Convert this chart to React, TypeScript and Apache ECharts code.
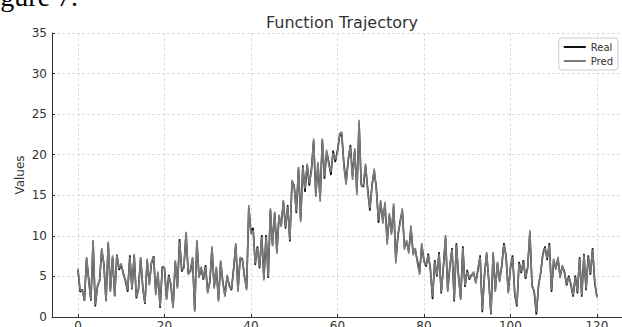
import React, { useEffect, useRef } from "react";
import * as echarts from "echarts";

const titleText = "Function Trajectory";
const yAxisName = "Values";
const seriesNames = ["Real", "Pred"];
const xTicks = [0, 20, 40, 60, 80, 100, 120];
const sampleStep = 0.5;

const predValues = [
  6.0, 3.3, 3.3, 2.1, 7.4, 4.4, 2.1, 9.5, 1.5, 3.9,
  4.4, 8.5, 6.4, 1.9, 9.3, 3.1, 7.6, 2.5, 7.6, 6.0,
  6.6, 5.2, 4.6, 3.3, 7.4, 3.5, 7.8, 2.5, 3.3, 7.4,
  3.5, 1.7, 7.2, 3.9, 6.8, 7.4, 2.7, 5.6, 1.3, 6.0,
  6.2, 2.1, 5.0, 4.1, 1.1, 7.0, 3.5, 9.3, 5.8, 6.0,
  10.5, 5.2, 5.8, 7.4, 0.65, 9.5, 4.8, 6.2, 4.8, 6.2,
  2.9, 4.5, 8.7, 3.5, 6.2, 1.9, 7.0, 4.1, 2.5, 5.2,
  3.7, 3.5, 5.8, 9.1, 3.1, 7.4, 7.0, 5.2, 3.3, 13.8,
  10.2, 10.7, 6.6, 8.5, 6.2, 9.9, 4.5, 9.9, 5.0, 13.4,
  8.7, 13.0, 7.8, 12.6, 11.1, 14.4, 11.1, 13.6, 9.5, 16.9,
  16.0, 13.0, 18.5, 11.7, 18.5, 15.8, 18.9, 16.5, 17.9, 22.0,
  14.8, 19.1, 14.2, 22.0, 17.3, 20.6, 18.8, 17.9, 20.2, 19.4,
  20.2, 22.6, 22.8, 18.5, 16.3, 19.6, 21.0, 16.9, 20.8, 15.0,
  24.3, 16.1, 16.3, 18.9, 15.4, 13.4, 16.0, 18.3, 15.6, 11.9,
  14.4, 11.5, 14.2, 8.9, 12.8, 10.1, 14.0, 6.6, 10.3, 11.5,
  13.4, 8.3, 9.5, 7.8, 11.3, 7.6, 8.5, 6.6, 5.2, 9.1,
  6.8, 6.4, 7.6, 6.0, 2.5, 6.8, 5.2, 7.8, 3.1, 6.0,
  10.1, 3.1, 6.4, 8.3, 2.1, 8.9, 5.2, 2.1, 8.5, 3.9,
  5.6, 4.8, 5.0, 5.6, 4.1, 6.0, 7.4, 0.85, 5.0, 8.0,
  4.3, 0.4, 8.0, 3.1, 6.8, 4.3, 6.5, 8.9, 7.6, 2.9,
  6.2, 7.4, 3.0, 1.5, 6.6, 5.6, 6.8, 4.9, 6.0, 10.7,
  3.7, 3.3, 0.6, 3.7, 5.6, 7.6, 8.5, 7.2, 8.9, 3.3,
  7.2, 5.8, 7.4, 4.8, 6.4, 5.4, 4.1, 4.9, 4.1, 2.7,
  4.9, 3.1, 7.2, 2.7, 7.6, 3.5, 7.4, 5.4, 8.3, 4.4,
  2.4,
];

const realValues = [
  5.8, 3.1, 3.4, 2.0, 7.2, 4.6, 2.0, 9.3, 1.3, 3.7,
  4.5, 8.3, 6.5, 2.0, 9.1, 3.3, 7.4, 2.6, 7.7, 5.8,
  6.4, 5.4, 4.4, 3.1, 7.6, 3.4, 7.6, 2.3, 3.5, 7.2,
  3.6, 1.6, 7.0, 4.1, 6.6, 7.5, 2.9, 5.4, 1.1, 6.2,
  6.0, 2.3, 5.2, 3.9, 1.2, 6.8, 3.7, 9.6, 5.6, 6.2,
  10.3, 5.4, 5.6, 7.2, 0.8, 9.3, 5.0, 6.0, 4.6, 6.4,
  3.1, 4.3, 8.5, 3.7, 6.0, 2.1, 6.8, 4.3, 2.7, 5.0,
  3.9, 3.3, 6.0, 8.9, 3.3, 7.2, 7.2, 5.0, 3.5, 13.5,
  10.4, 11.0, 6.4, 8.7, 6.0, 10.1, 4.7, 10.1, 4.8, 13.2,
  8.9, 12.8, 8.0, 12.4, 11.3, 14.2, 10.9, 13.8, 9.3, 16.7,
  16.2, 12.8, 18.3, 12.0, 18.7, 15.4, 18.7, 16.2, 18.3, 21.7,
  15.1, 18.8, 14.6, 21.8, 17.0, 20.3, 19.1, 17.5, 20.5, 19.1,
  20.5, 22.3, 22.5, 18.8, 16.6, 19.3, 21.2, 17.3, 20.5, 15.4,
  23.9, 16.4, 16.0, 18.6, 15.8, 13.1, 16.3, 18.0, 15.9, 11.6,
  14.1, 11.8, 13.9, 9.3, 12.5, 10.4, 13.7, 7.0, 10.0, 11.8,
  13.1, 8.6, 9.2, 8.1, 11.0, 7.9, 8.2, 6.9, 5.5, 8.8,
  7.0, 6.2, 7.8, 5.8, 2.2, 7.0, 5.0, 8.0, 2.9, 6.2,
  9.8, 3.3, 6.2, 8.5, 1.9, 9.1, 5.0, 2.3, 8.7, 3.7,
  5.8, 4.6, 5.2, 5.4, 4.3, 5.8, 7.6, 0.6, 5.2, 7.8,
  4.5, 0.3, 7.8, 3.3, 6.6, 4.5, 6.3, 9.1, 7.4, 3.1,
  6.0, 7.6, 2.8, 1.3, 6.8, 5.4, 7.0, 4.7, 6.2, 10.4,
  3.9, 3.1, 0.3, 3.9, 5.4, 7.8, 8.7, 7.0, 9.1, 3.1,
  7.0, 6.0, 7.2, 5.0, 6.2, 5.6, 3.9, 5.1, 3.9, 2.5,
  5.1, 2.9, 7.4, 2.5, 7.8, 3.3, 7.6, 5.2, 8.5, 4.2,
  2.5,
];

const toPairs = (vals: number[]) => vals.map((v, i) => [i * sampleStep, v]);

export default function App() {
  const ref = useRef<HTMLDivElement>(null);
  useEffect(() => {
    document.body.style.margin = "0";
    if (!ref.current) return;
    const chart = echarts.init(ref.current, null, { renderer: "svg" });
    const font = "DejaVu Sans";
    chart.setOption({
      animation: false,
      backgroundColor: "#ffffff",
      title: {
        text: titleText,
        left: 337,
        textAlign: "center",
        top: 9,
        textStyle: { fontFamily: font, fontSize: 16, fontWeight: "normal", color: "#333" },
      },
      legend: {
        orient: "vertical",
        right: 4,
        top: 38,
        icon: "rect",
        itemWidth: 22,
        itemHeight: 2,
        itemGap: 4,
        padding: [4, 5, 4, 5],
        borderColor: "#cccccc",
        borderWidth: 1,
        borderRadius: 3,
        backgroundColor: "#ffffff",
        textStyle: { fontFamily: font, fontSize: 10, color: "#333" },
        data: seriesNames,
      },
      graphic: [
        {
          type: "text",
          left: -23,
          top: -18,
          style: {
            text: "Figure 7.",
            fontFamily: "Liberation Serif",
            fontSize: 28,
            fill: "#000",
          },
        },
      ],
      grid: { left: 52, right: 0, top: 33, bottom: 10, outerBoundsMode: "none", containLabel: false },
      xAxis: {
        type: "value",
        min: -6,
        max: 125.8,
        axisLine: { show: true, onZero: false, lineStyle: { color: "#333", width: 1 } },
        axisTick: { show: true, inside: true, length: 3, customValues: xTicks, lineStyle: { color: "#333" } },
        axisLabel: { customValues: xTicks, fontFamily: font, fontSize: 12, color: "#333", margin: 3 },
        splitLine: { show: true, lineStyle: { color: "#d6d6d6", type: [3, 2], width: 0.8 } },
      },
      yAxis: {
        type: "value",
        min: 0,
        max: 35,
        interval: 5,
        name: yAxisName,
        nameLocation: "middle",
        nameGap: 26,
        nameMoveOverlap: false,
        nameTextStyle: { fontFamily: font, fontSize: 12, color: "#333" },
        axisLine: { show: true, onZero: false, lineStyle: { color: "#333", width: 1 } },
        axisTick: { show: true, inside: true, length: 3, lineStyle: { color: "#333" } },
        axisLabel: { fontFamily: font, fontSize: 12, color: "#333", margin: 5 },
        splitLine: { show: true, lineStyle: { color: "#d6d6d6", type: [3, 2], width: 0.8 } },
      },
      series: [
        {
          name: seriesNames[0],
          type: "line",
          data: toPairs(realValues),
          showSymbol: false,
          lineStyle: { color: "#111111", width: 1.6 },
          itemStyle: { color: "#111111" },
        },
        {
          name: seriesNames[1],
          type: "line",
          data: toPairs(predValues),
          showSymbol: false,
          lineStyle: { color: "#7a7a7a", width: 1.6 },
          itemStyle: { color: "#7a7a7a" },
        },
      ],
    });
    return () => chart.dispose();
  }, []);
  return <div ref={ref} style={{ width: 622, height: 327 }} />;
}
